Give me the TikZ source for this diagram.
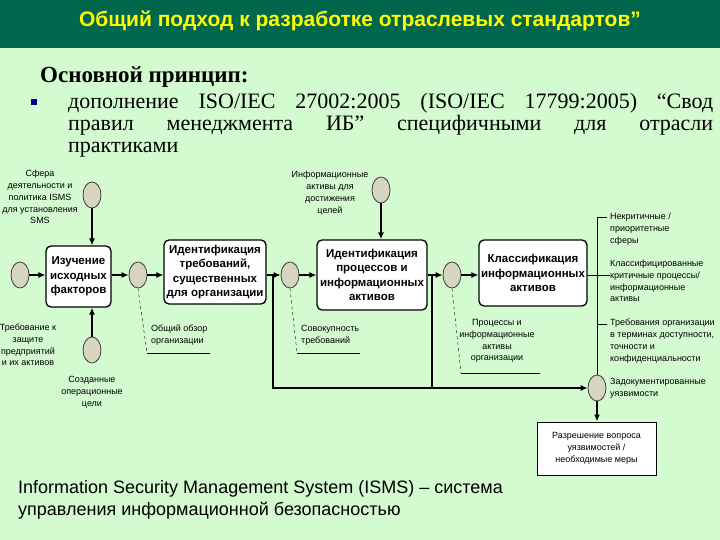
\documentclass[tikz,border=0pt]{standalone}
\usepackage{fontspec}
\setmainfont{Liberation Serif}
\setsansfont{Liberation Sans}
\usetikzlibrary{arrows.meta,shapes.geometric}
\definecolor{bggreen}{RGB}{212,250,208}
\definecolor{titlegreen}{RGB}{0,102,76}
\definecolor{titleyellow}{RGB}{255,255,0}
\definecolor{bulletblue}{RGB}{0,0,140}
\definecolor{circfill}{RGB}{214,214,192}
\begin{document}
\begin{tikzpicture}[x=1pt,y=-1pt,
    proc/.style={draw,line width=1.3pt,rounded corners=5pt,fill=white,align=center,inner sep=0pt,
      font=\sffamily\bfseries\fontsize{11.5}{14.5}\selectfont},
    evt/.style={ellipse,draw=black!75,line width=0.8pt,fill=circfill,inner sep=0pt,
      minimum width=18pt,minimum height=26pt},
    lbl/.style={font=\sffamily\fontsize{9}{11.8}\selectfont,inner sep=0pt,align=center},
    flow/.style={line width=1.3pt,-{Latex[length=7pt,width=6pt]}},
    note/.style={thin,dashed}]

    % Background
    \fill[bggreen] (0,0) rectangle (720,540);
    \fill[titlegreen] (0,0) rectangle (720,48);
    \useasboundingbox (0,0) rectangle (720,540);

    % Heading
    \node[font=\sffamily\bfseries\fontsize{21}{24}\selectfont,text=titleyellow] (title) at (360,21)
        {Общий подход к разработке отраслевых стандартов”};
    \node[anchor=base west,inner sep=0pt,font=\bfseries\fontsize{23}{26}\selectfont] (principle) at (40,83)
        {Основной принцип:};
    \node[fill=bulletblue,minimum size=6pt,inner sep=0pt] (bullet) at (34,102) {};
    \node[anchor=north west,text width=645pt,align=justify,inner sep=0pt,font=\fontsize{22}{22}\selectfont] (rule) at (68,93)
        {дополнение ISO/IEC 27002:2005 (ISO/IEC 17799:2005) “Свод\linebreak
         правил менеджмента ИБ” специфичными для отрасли\linebreak практиками};

    % Processes
    \node[proc,minimum width=65pt,minimum height=61pt] (b1) at (78.5,276.5) {Изучение\\исходных\\факторов};
    \node[proc,minimum width=102pt,minimum height=64pt] (b2) at (215,272) {Идентификация\\требований,\\существенных\\для организации};
    \node[proc,minimum width=110pt,minimum height=70pt] (b3) at (372,275) {Идентификация\\процессов и\\информационных\\активов};
    \node[proc,minimum width=108pt,minimum height=66pt] (b4) at (533,273) {Классификация\\информационных\\активов};
    \node[draw,line width=1pt,fill=white,lbl,minimum width=119pt,minimum height=53pt] (b5) at (596.5,448.5)
        {Разрешение вопроса\\уязвимостей /\\необходимые меры};

    % Events
    \foreach \n/\x/\y in {c0/20/275, ct1/92/195, cb1/92/350, c1/138/275, c2/290/275,
                          ct3/381/190, c3/452/275, c4/597/388}
        \node[evt] (\n) at (\x,\y) {};

    % Flow
    \draw[flow] (c0) -- (c0 -| b1.west);
    \draw[flow] (ct1) -- (ct1 |- b1.north);
    \draw[flow] (cb1) -- (cb1 |- b1.south);
    \draw[flow] (b1.east |- c1) -- (c1);
    \draw[flow] (c1) -- (c1 -| b2.west);
    \draw[flow] (b2.east |- c2) -- (c2);
    \draw[flow] (c2) -- (c2 -| b3.west);
    \draw[flow] (ct3) -- (ct3 |- b3.north);
    \draw[flow] (b3.east |- c3) -- (c3);
    \draw[flow] (c3) -- (c3 -| b4.west);
    \draw[flow] (c4) -- (c4 |- b5.north);

    % Feedback
    \coordinate (j1) at (273,275);
    \coordinate (j2) at (432,275);
    \draw[flow] (j1) |- (c4);
    \draw[line width=1.3pt] (j2) -- (j2 |- c4);

    % Outputs
    \draw[thin] (b4.east |- c3) -- (610,275);
    \draw[thin] (607,217) -| (c4.north);
    \draw[thin] (597,324) -- (607,324);

    % Notes
    \draw[note] (c1.south) -- (147,353);
    \draw[thin] (147,353) -- (210,353);
    \draw[note] (c2.south) -- (297,353);
    \draw[thin] (297,353) -- (360,353);
    \draw[note] (c3.south) -- (461,373);
    \draw[thin] (461,373) -- (540,373);

    % Labels
    \node[lbl] (l_ct1) at (40,197) {Сфера\\деятельности и\\политика ISMS\\для установления\\SMS};
    \node[lbl] (l_c0) at (28,345) {Требование к\\защите\\предприятий\\и их активов};
    \node[lbl] (l_cb1) at (92,392) {Созданные\\операционные\\цели};
    \node[lbl,align=left,anchor=west] (l_c1) at (151,335) {Общий обзор\\организации};
    \node[lbl] (l_ct3) at (330,193) {Информационные\\активы для\\достижения\\целей};
    \node[lbl,align=left,anchor=west] (l_c2) at (301,335) {Совокупность\\требований};
    \node[lbl] (l_c3) at (497,341) {Процессы и\\информационные\\активы\\организации};
    \node[lbl,align=left,anchor=west] (l_o1) at (610,229) {Некритичные /\\приоритетные\\сферы};
    \node[lbl,align=left,anchor=west] (l_o2) at (610,281) {Классифицированные\\критичные процессы/\\информационные\\активы};
    \node[lbl,align=left,anchor=west] (l_o3) at (610,341) {Требования организации\\в терминах доступности,\\точности и\\конфиденциальности};
    \node[lbl,align=left,anchor=west] (l_o4) at (610,388) {Задокументированные\\уязвимости};

    % Footnote
    \node[anchor=north west,align=left,inner sep=0pt,font=\sffamily\fontsize{18}{22}\selectfont] (footnote) at (18,480)
        {Information Security Management System (ISMS) – система\\управления информационной безопасностью};
\end{tikzpicture}
\end{document}
